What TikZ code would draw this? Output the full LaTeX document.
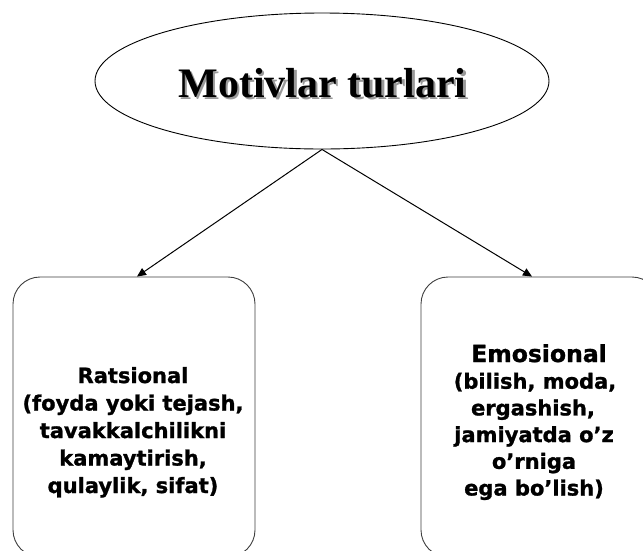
\documentclass[tikz,border=0pt]{standalone}
\usepackage{fontspec}
\setmainfont{Liberation Serif}
\newfontfamily\boxfont[BoldFeatures={FakeBold=1.2}]{DejaVu Sans}
\usetikzlibrary{shapes.geometric,arrows.meta}
\begin{document}
\begin{tikzpicture}[x=1pt,y=-1pt,
  boxshape/.style={draw=black!75, line width=0.9pt, rounded corners=27pt, minimum height=280pt, inner sep=0pt},
  titletext/.style={anchor=base, inner sep=0pt, font=\fontsize{42}{50}\selectfont\bfseries},
  linetext/.style={anchor=base, inner sep=0pt, font=\boxfont\bfseries\fontsize{21}{26}\selectfont},
  headtext/.style={anchor=base, inner sep=0pt, font=\boxfont\bfseries\fontsize{23.5}{28}\selectfont},
  link/.style={draw=black, line width=1pt, -{Triangle[length=9pt,width=8pt]}}
]
\useasboundingbox (0,0) rectangle (643,550);
\clip (0,0) rectangle (643,550);
\fill[white] (0,0) rectangle (643,550);

% title ellipse
\node[draw=black, line width=0.9pt, ellipse, minimum width=454pt, minimum height=136pt, inner sep=0pt] (title) at (322,81) {};
\node[titletext] (titlelabel) at (322.5,97) {\rlap{\hspace{2.5pt}\raisebox{-2.5pt}{\color{black!40}Motivlar turlari}}Motivlar turlari};

% boxes
\node[boxshape, minimum width=242pt] (left) at (134,417) {};
\node[boxshape, minimum width=238pt] (right) at (540,417) {};

% left text
\node[linetext] (L1) at (133,383) {Ratsional};
\node[linetext] (L2) at (133,410.5) {(foyda yoki tejash,};
\node[linetext] (L3) at (133,438) {tavakkalchilikni};
\node[linetext] (L4) at (133,465.5) {kamaytirish,};
\node[linetext] (L5) at (133,493) {qulaylik, sifat)};

% right text
\node[headtext] (R1) at (539,362) {Emosional};
\node[linetext] (R2) at (535,388.7) {(bilish, moda,};
\node[linetext] (R3) at (533,415.4) {ergashish,};
\node[linetext] (R4) at (534,442.1) {jamiyatda o’z};
\node[linetext] (R5) at (534,468.8) {o’rniga};
\node[linetext] (R6) at (534,495.5) {ega bo’lish)};

% connectors
\draw[link] (title.south) -- ([xshift=3pt]left.north);
\draw[link] (title.south) -- ([xshift=-8pt]right.north);
\end{tikzpicture}
\end{document}
